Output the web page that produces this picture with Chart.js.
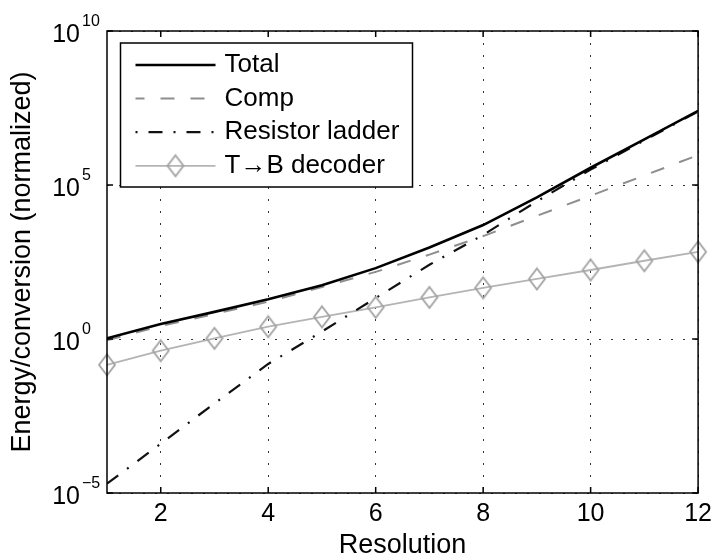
<!DOCTYPE html>
<html>
<head>
<meta charset="utf-8">
<title>Energy per conversion vs resolution</title>
<script src="https://cdn.jsdelivr.net/npm/chart.js@4.4.1/dist/chart.umd.min.js"></script>
<style>
    html, body { margin: 0; padding: 0; background: #fff; }
    canvas { display: block; }
</style>
</head>
<body>
<canvas id="energyChart" width="718" height="558"></canvas>
<script>
// Values (energy per conversion, normalized)
const resolution = [1, 2, 3, 4, 5, 6, 7, 8, 9, 10, 11, 12];
const totalEnergy = [1.05, 3.09, 7.6, 19.5, 56, 200, 930, 5000, 39800, 363000, 3.02e6, 2.57e7];
const compEnergy = [0.91, 2.63, 6.5, 16.2, 49, 151, 550, 2190, 10000, 44700, 204000, 933000];
const ladderEnergy = [2.0e-5, 4.0e-4, 8.1e-3, 0.155, 1.74, 21.4, 257, 2400, 29500, 316000, 2.82e6, 2.45e7];
const decoderEnergy = [0.145, 0.417, 1.05, 2.51, 5.25, 10.7, 22.4, 45.7, 89, 174, 347, 676];

const seriesNames = ["Total", "Comp", "Resistor ladder", "T\u2192B decoder"];
const xTicks = [2, 4, 6, 8, 10, 12];
const yTicks = [1e-5, 1, 1e5, 1e10];
const yTickBase = "10";
const yTickExp = ["\u22125", "0", "5", "10"];

const FONT = "'Liberation Sans', Arial, Helvetica, sans-serif";

document.addEventListener("DOMContentLoaded", () => {
    const toPoints = values => resolution.map((r, i) => ({ x: r, y: values[i] }));

    // hollow diamond marker, a bit taller than wide like the matlab one
    function makeDiamond(w, h, color) {
        const c = document.createElement("canvas");
        c.width = w + 4;
        c.height = h + 4;
        const g = c.getContext("2d");
        g.strokeStyle = color;
        g.lineWidth = 1.8;
        g.beginPath();
        g.moveTo(c.width / 2, 2);
        g.lineTo(c.width - 2, c.height / 2);
        g.lineTo(c.width / 2, c.height - 2);
        g.lineTo(2, c.height / 2);
        g.closePath();
        g.stroke();
        return c;
    }
    const diamond = makeDiamond(16, 21, "#a2a2a2");

    const matlabFrame = {
        id: "matlabFrame",
        afterDatasetsDraw(chart) {
            const { ctx, chartArea: a, scales: { x, y } } = chart;
            ctx.save();
            ctx.strokeStyle = "#000";
            ctx.lineWidth = 1.5;
            ctx.setLineDash([]);
            ctx.strokeRect(a.left, a.top, a.right - a.left, a.bottom - a.top);

            // inward ticks on all four sides
            ctx.beginPath();
            xTicks.forEach(v => {
                const px = x.getPixelForValue(v);
                ctx.moveTo(px, a.bottom); ctx.lineTo(px, a.bottom - 6);
                ctx.moveTo(px, a.top); ctx.lineTo(px, a.top + 6);
            });
            yTicks.forEach(v => {
                const py = y.getPixelForValue(v);
                ctx.moveTo(a.left, py); ctx.lineTo(a.left + 6, py);
                ctx.moveTo(a.right, py); ctx.lineTo(a.right - 6, py);
            });
            ctx.stroke();

            // y tick labels as 10 with superscript
            ctx.fillStyle = "#000";
            ctx.textBaseline = "alphabetic";
            yTicks.forEach((v, i) => {
                const py = y.getPixelForValue(v);
                ctx.font = `25px ${FONT}`;
                ctx.textAlign = "right";
                ctx.fillText(yTickBase, a.left - 27, py + 10.5);
                ctx.font = `16px ${FONT}`;
                ctx.textAlign = "left";
                ctx.fillText(yTickExp[i], a.left - 25, py - 5);
            });
            ctx.restore();
        },
        afterDraw(chart) {
            const { ctx, chartArea: a } = chart;
            const left = a.left + 13.5, top = a.top + 12;
            const w = 292, h = 144;
            ctx.save();
            ctx.fillStyle = "#fff";
            ctx.fillRect(left, top, w, h);
            ctx.strokeStyle = "#000";
            ctx.lineWidth = 1.5;
            ctx.strokeRect(left, top, w, h);

            const offsets = [0, 5, 25, 0];
            chart.data.datasets.forEach((ds, i) => {
                const rowY = top + 22 + i * 33.6;
                ctx.strokeStyle = ds.borderColor;
                ctx.lineWidth = ds.borderWidth;
                ctx.setLineDash(ds.borderDash || []);
                ctx.lineDashOffset = offsets[i];
                ctx.beginPath();
                ctx.moveTo(left + 15, rowY);
                ctx.lineTo(left + 95, rowY);
                ctx.stroke();
                ctx.setLineDash([]);
                if (ds.pointStyle instanceof HTMLCanvasElement) {
                    const m = ds.pointStyle;
                    ctx.drawImage(m, left + 55 - m.width / 2, rowY - m.height / 2);
                }
                ctx.fillStyle = "#000";
                ctx.font = `26px ${FONT}`;
                ctx.textAlign = "left";
                ctx.textBaseline = "middle";
                ctx.fillText(ds.label, left + 104, rowY);
            });
            ctx.restore();
        }
    };

    const ctx = document.getElementById("energyChart").getContext("2d");
    new Chart(ctx, {
        type: "line",
        data: {
            datasets: [
                {
                    label: seriesNames[0], data: toPoints(totalEnergy),
                    borderColor: "#000", borderWidth: 2.6, pointRadius: 0
                },
                {
                    label: seriesNames[1], data: toPoints(compEnergy),
                    borderColor: "#8e8e8e", borderWidth: 2, borderDash: [14, 16], pointRadius: 0
                },
                {
                    label: seriesNames[2], data: toPoints(ladderEnergy),
                    borderColor: "#111", borderWidth: 2.2, borderDash: [14, 11, 2, 11], pointRadius: 0
                },
                {
                    label: seriesNames[3], data: toPoints(decoderEnergy),
                    borderColor: "#b4b4b4", borderWidth: 1.8, pointStyle: diamond,
                    pointRadius: 10, clip: false
                }
            ]
        },
        options: {
            responsive: false,
            animation: false,
            layout: { padding: { top: 31, right: 17, left: 0, bottom: 0 } },
            plugins: { legend: { display: false }, tooltip: { enabled: false } },
            scales: {
                x: {
                    type: "linear", min: 1, max: 12,
                    afterBuildTicks: s => { s.ticks = xTicks.map(v => ({ value: v })); },
                    afterFit: s => { s.height = 65; },
                    grid: { color: "#333", lineWidth: 1, drawTicks: false },
                    border: { display: false, dash: [2, 10] },
                    ticks: { color: "#000", font: { family: FONT, size: 25 }, padding: 6, maxRotation: 0 },
                    title: {
                        display: true, text: "Resolution", color: "#000",
                        font: { family: FONT, size: 27, lineHeight: 1 }, padding: { top: 0, bottom: -1 }
                    }
                },
                y: {
                    type: "logarithmic", min: 1e-5, max: 1e10,
                    afterBuildTicks: s => { s.ticks = yTicks.map(v => ({ value: v })); },
                    afterFit: s => { s.width = 107; },
                    grid: { color: "#333", lineWidth: 1, drawTicks: false },
                    border: { display: false, dash: [2, 10] },
                    ticks: { display: false },
                    title: {
                        display: true, text: "Energy/conversion (normalized)", color: "#000",
                        font: { family: FONT, size: 27, lineHeight: 1 }, padding: { top: 9, bottom: 0 }
                    }
                }
            }
        },
        plugins: [matlabFrame]
    });
});
</script>
</body>
</html>
